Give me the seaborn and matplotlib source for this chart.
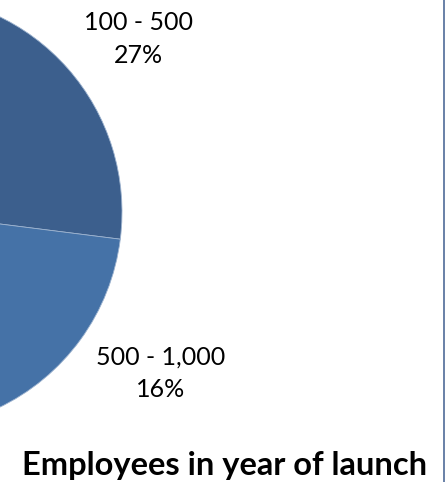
import matplotlib
matplotlib.use("Agg")
import matplotlib.pyplot as plt
import seaborn as sns

# Share of product launches by company headcount in launch year
categories = ["100 - 500", "500 - 1,000", ""]
shares = [27, 16, 57]
percent_labels = ["27%", "16%", ""]
title = "Employees in year of launch"

sns.set_theme(style="white")
plt.rcParams["font.family"] = ["Lato", "DejaVu Sans"]

colors = ["#3C5F8D", "#4572A7", "#4A7EBB"]

fig = plt.figure(figsize=(4.46, 4.82), dpi=100)
ax = fig.add_axes([0, 0, 1, 1])

ax.pie(
    shares,
    colors=colors,
    startangle=90,
    counterclock=False,
    center=(-95, 270),
    radius=217,
    frame=True,
    wedgeprops=dict(edgecolor="#9DB3CF", linewidth=0.6),
)
ax.set_xlim(0, 446)
ax.set_ylim(0, 482)
ax.set_aspect("equal")
ax.axis("off")

label_pos = [(138, 443), (161, 109)]
for (x, y), cat, pct in zip(label_pos, categories, percent_labels):
    ax.text(x, y, f"{cat}\n{pct}", ha="center", va="center",
            fontsize=18, color="black", linespacing=1.5)

ax.text(225, 7, title, ha="center", va="baseline",
        fontsize=23.5, fontweight="bold", color="black")

# frame line along the right edge
ax.plot([444, 444], [0, 482], color="#4F6B98", linewidth=1.2, solid_capstyle="butt")

fig.savefig("out.png", dpi=100)
